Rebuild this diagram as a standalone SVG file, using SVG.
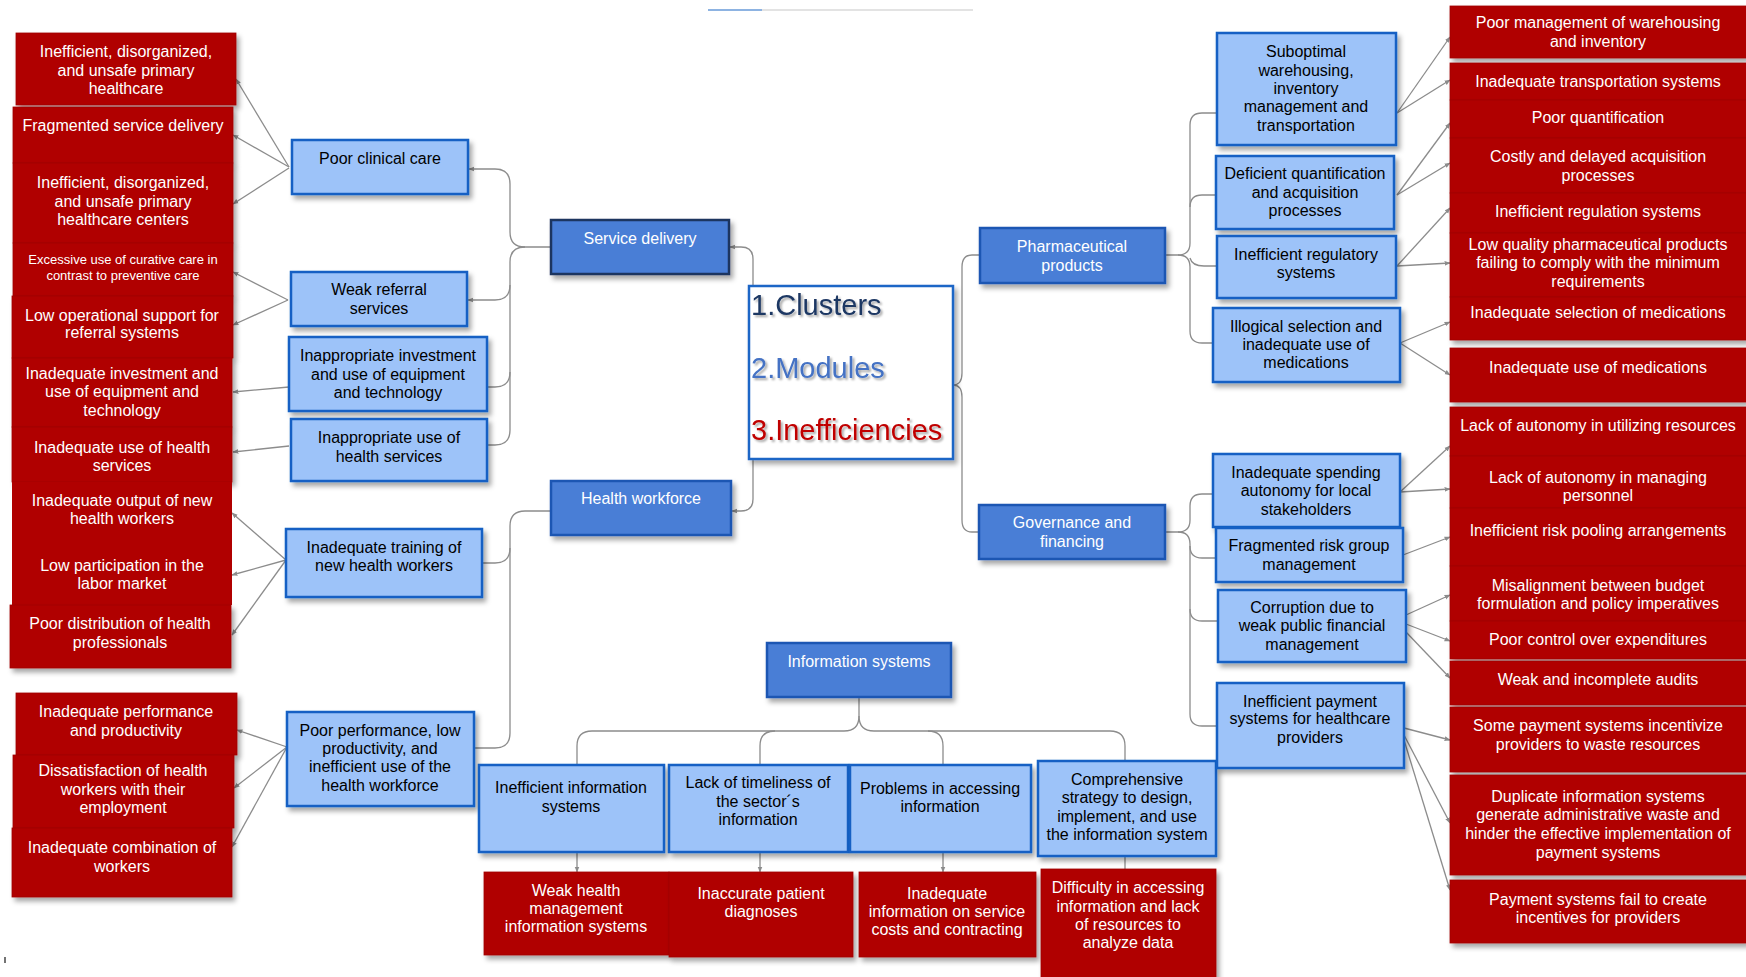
<svg xmlns="http://www.w3.org/2000/svg" width="1746" height="977" viewBox="0 0 1746 977">
<defs>
<style>
text{font-family:"Liberation Sans",Arial,sans-serif;font-size:16px;text-anchor:middle}
.red rect{fill:#b00000;stroke:#a00000;stroke-width:0.8}
.red text{fill:#fff}
.sub rect{fill:#9dc3f9;stroke:#1560c4;stroke-width:2.5}
.sub text{fill:#000}
.mod rect{fill:#4a7ed6;stroke:#1a56b3;stroke-width:2.5}
.mod text{fill:#fff}
.con path,.con line{fill:none;stroke:#8c8c8c;stroke-width:1.3}
.arr{marker-end:url(#ah)}
.big{font-size:29px;text-anchor:start}
</style>
<filter id="sh" x="-10%" y="-10%" width="130%" height="140%">
<feDropShadow dx="3" dy="4" stdDeviation="2.5" flood-color="#000" flood-opacity="0.35"/>
</filter>
<filter id="ts" x="-5%" y="-20%" width="115%" height="150%">
<feDropShadow dx="2" dy="2" stdDeviation="1.2" flood-color="#000" flood-opacity="0.35"/>
</filter>
<marker id="ah" viewBox="0 0 10 10" refX="9" refY="5" markerWidth="6" markerHeight="6" markerUnits="userSpaceOnUse" orient="auto">
<path d="M0,1 L10,5 L0,9 z" fill="#8c8c8c"/>
</marker>
</defs>
<rect width="1746" height="977" fill="#fff"/>

<!-- thin rule along the top edge -->
<line x1="708" y1="10" x2="973" y2="10" stroke="#e3e3e3" stroke-width="2"/>
<line x1="708" y1="10" x2="762" y2="10" stroke="#8db3e2" stroke-width="2"/>
<line x1="5" y1="957" x2="5" y2="963" stroke="#444" stroke-width="1.5"/>

<g id="connectors" class="con">
<!-- hub -->
<path class="arr" d="M753 286 V259 Q753 247 741 247 H730"/>
<path class="arr" d="M753 459 V499 Q753 511 741 511 H732"/>
<path d="M953 385 Q962 385 962 373 V267 Q962 255 972 255 H980"/>
<path d="M953 385 Q962 385 962 397 V520 Q962 532 972 532 H979"/>
<!-- service delivery -->
<path class="arr" d="M551 247 H525 Q510 247 510 232 V184 Q510 169 495 169 H469"/>
<path d="M525 247 Q510 247 510 262 V430 Q510 445 495 445 H487"/>
<path class="arr" d="M510 285 Q510 300 495 300 H468"/>
<path d="M510 372 Q510 387 495 387 H487"/>
<!-- health workforce -->
<path d="M551 511 H525 Q510 511 510 526 V733 Q510 748 495 748 H474"/>
<path d="M510 548 Q510 563 495 563 H482"/>
<!-- information systems -->
<path d="M859 697 V716 Q859 731 844 731 H592 Q577 731 577 746 V765"/>
<path d="M859 716 Q859 731 874 731 H1110 Q1125 731 1125 746 V761"/>
<path d="M775 731 Q760 731 760 746 V765"/>
<path d="M928 731 Q943 731 943 746 V765"/>
<line class="arr" x1="577" y1="852" x2="577" y2="872"/>
<line class="arr" x1="760" y1="852" x2="760" y2="872"/>
<line class="arr" x1="943" y1="852" x2="943" y2="872"/>
<line x1="1125" y1="856" x2="1125" y2="869"/>
<!-- pharmaceutical products -->
<path d="M1165 255 H1178 Q1190 255 1190 243 V125 Q1190 113 1202 113 H1217"/>
<path d="M1178 255 Q1190 255 1190 267 V331 Q1190 343 1202 343 H1213"/>
<path d="M1190 207 Q1190 195 1202 195 H1216"/>
<path d="M1190 258 Q1192 266 1204 266 H1217"/>
<!-- governance and financing -->
<path d="M1165 532 H1178 Q1190 532 1190 520 V506 Q1190 494 1202 494 H1213"/>
<path d="M1178 532 Q1190 532 1190 544 V714 Q1190 726 1202 726 H1217"/>
<path d="M1190 546 Q1190 558 1202 558 H1216"/>
<path d="M1190 609 Q1190 621 1202 621 H1218"/>
<!-- left inefficiencies -->
<line class="arr" x1="289" y1="167" x2="236" y2="79"/>
<line class="arr" x1="289" y1="167" x2="233" y2="135"/>
<line class="arr" x1="289" y1="168" x2="233" y2="204"/>
<line class="arr" x1="288" y1="300" x2="233" y2="272"/>
<line class="arr" x1="288" y1="300" x2="233" y2="325"/>
<line class="arr" x1="289" y1="387" x2="233" y2="392"/>
<line class="arr" x1="289" y1="446" x2="233" y2="452"/>
<line class="arr" x1="286" y1="560" x2="232" y2="513"/>
<line class="arr" x1="286" y1="560" x2="232" y2="575"/>
<line class="arr" x1="286" y1="560" x2="232" y2="635"/>
<line class="arr" x1="287" y1="747" x2="237" y2="730"/>
<line class="arr" x1="287" y1="747" x2="234" y2="788"/>
<line class="arr" x1="287" y1="747" x2="232" y2="847"/>
<!-- right inefficiencies -->
<line class="arr" x1="1397" y1="113" x2="1450" y2="37"/>
<line class="arr" x1="1397" y1="113" x2="1450" y2="80"/>
<line class="arr" x1="1397" y1="195" x2="1450" y2="123"/>
<line class="arr" x1="1397" y1="195" x2="1450" y2="163"/>
<line class="arr" x1="1397" y1="266" x2="1450" y2="208"/>
<line class="arr" x1="1397" y1="266" x2="1450" y2="263"/>
<line class="arr" x1="1400" y1="343" x2="1450" y2="322"/>
<line class="arr" x1="1400" y1="343" x2="1450" y2="375"/>
<line class="arr" x1="1400" y1="492" x2="1450" y2="446"/>
<line class="arr" x1="1400" y1="492" x2="1450" y2="489"/>
<line class="arr" x1="1403" y1="555" x2="1450" y2="537"/>
<line class="arr" x1="1406" y1="615" x2="1450" y2="595"/>
<line class="arr" x1="1406" y1="624" x2="1450" y2="641"/>
<line class="arr" x1="1406" y1="632" x2="1450" y2="678"/>
<line class="arr" x1="1404" y1="728" x2="1450" y2="740"/>
<line class="arr" x1="1404" y1="735" x2="1450" y2="823"/>
<line class="arr" x1="1404" y1="740" x2="1450" y2="890"/>
</g>

<!-- centre legend -->
<g id="legend">
<rect x="749" y="286" width="204" height="173" fill="#fff" stroke="#1f66c6" stroke-width="2.5" filter="url(#sh)"/>
<g filter="url(#ts)">
<text class="big" x="751" y="315" fill="#1f3864">1.Clusters</text>
<text class="big" x="751" y="378" fill="#4472c4">2.Modules</text>
<text class="big" x="751" y="440" fill="#c00000">3.Inefficiencies</text>
</g>
</g>

<!-- modules -->
<g id="m-service" class="mod"><rect x="551" y="220" width="178" height="54" filter="url(#sh)" style="stroke:#1c3460"/><text x="640" y="244">Service delivery</text></g>
<g id="m-workforce" class="mod"><rect x="551" y="481" width="180" height="54" filter="url(#sh)"/><text x="641" y="504">Health workforce</text></g>
<g id="m-info" class="mod"><rect x="767" y="643" width="184" height="54" filter="url(#sh)"/><text x="859" y="667">Information systems</text></g>
<g id="m-pharma" class="mod"><rect x="980" y="228" width="185" height="55" filter="url(#sh)"/><text x="1072" y="252">Pharmaceutical</text><text x="1072" y="271">products</text></g>
<g id="m-gov" class="mod"><rect x="979" y="505" width="186" height="54" filter="url(#sh)"/><text x="1072" y="528">Governance and</text><text x="1072" y="547">financing</text></g>

<!-- service delivery / workforce clusters -->
<g id="c-clinical" class="sub"><rect x="292" y="140" width="176" height="54" filter="url(#sh)"/><text x="380" y="164">Poor clinical care</text></g>
<g id="c-referral" class="sub"><rect x="291" y="272" width="176" height="54" filter="url(#sh)"/><text x="379" y="295">Weak referral</text><text x="379" y="314">services</text></g>
<g id="c-equipment" class="sub"><rect x="289" y="337" width="198" height="74" filter="url(#sh)"/><text x="388" y="361">Inappropriate investment</text><text x="388" y="380">and use of equipment</text><text x="388" y="398">and technology</text></g>
<g id="c-use" class="sub"><rect x="291" y="419" width="196" height="62" filter="url(#sh)"/><text x="389" y="443">Inappropriate use of</text><text x="389" y="462">health services</text></g>
<g id="c-training" class="sub"><rect x="286" y="529" width="196" height="68" filter="url(#sh)"/><text x="384" y="553">Inadequate training of</text><text x="384" y="571">new health workers</text></g>
<g id="c-performance" class="sub"><rect x="287" y="712" width="187" height="94" filter="url(#sh)"/><text x="380" y="736">Poor performance, low</text><text x="380" y="754">productivity, and</text><text x="380" y="772">inefficient use of the</text><text x="380" y="791">health workforce</text></g>

<!-- left inefficiencies -->
<g id="i-l1" class="red"><rect x="16" y="33" width="220" height="72" filter="url(#sh)"/><text x="126" y="57">Inefficient, disorganized,</text><text x="126" y="76">and unsafe primary</text><text x="126" y="94">healthcare</text></g>
<g id="i-l2" class="red"><rect x="13" y="107" width="220" height="56" filter="url(#sh)"/><text x="123" y="131">Fragmented service delivery</text></g>
<g id="i-l3" class="red"><rect x="13" y="163" width="220" height="80" filter="url(#sh)"/><text x="123" y="188">Inefficient, disorganized,</text><text x="123" y="207">and unsafe primary</text><text x="123" y="225">healthcare centers</text></g>
<g id="i-l4" class="red"><rect x="13" y="243" width="220" height="53" filter="url(#sh)"/><text x="123" y="264" style="font-size:13px">Excessive use of curative care in</text><text x="123" y="280" style="font-size:13px">contrast to preventive care</text></g>
<g id="i-l5" class="red"><rect x="12" y="296" width="221" height="62" filter="url(#sh)"/><text x="122" y="321">Low operational support for</text><text x="122" y="338">referral systems</text></g>
<g id="i-l6" class="red"><rect x="12" y="358" width="220" height="69" filter="url(#sh)"/><text x="122" y="379">Inadequate investment and</text><text x="122" y="397">use of equipment and</text><text x="122" y="416">technology</text></g>
<g id="i-l7" class="red"><rect x="12" y="427" width="220" height="55" filter="url(#sh)"/><text x="122" y="453">Inadequate use of health</text><text x="122" y="471">services</text></g>
<g id="i-l8" class="red"><rect x="12" y="482" width="220" height="58" style="stroke:none"/><text x="122" y="506">Inadequate output of new</text><text x="122" y="524">health workers</text></g>
<g id="i-l9" class="red"><rect x="12" y="540" width="220" height="65" style="stroke:none"/><text x="122" y="571">Low participation in the</text><text x="122" y="589">labor market</text></g>
<g id="i-l10" class="red"><rect x="10" y="605" width="221" height="63" filter="url(#sh)"/><text x="120" y="629">Poor distribution of health</text><text x="120" y="648">professionals</text></g>
<g id="i-l11" class="red"><rect x="16" y="693" width="221" height="62" filter="url(#sh)"/><text x="126" y="717">Inadequate performance</text><text x="126" y="736">and productivity</text></g>
<g id="i-l12" class="red"><rect x="13" y="755" width="221" height="73" filter="url(#sh)"/><text x="123" y="776">Dissatisfaction of health</text><text x="123" y="795">workers with their</text><text x="123" y="813">employment</text></g>
<g id="i-l13" class="red"><rect x="12" y="828" width="220" height="69" filter="url(#sh)"/><text x="122" y="853">Inadequate combination of</text><text x="122" y="872">workers</text></g>

<!-- information systems clusters -->
<g id="c-infosys" class="sub"><rect x="479" y="765" width="185" height="87" filter="url(#sh)"/><text x="571" y="793">Inefficient information</text><text x="571" y="812">systems</text></g>
<g id="c-timeliness" class="sub"><rect x="669" y="765" width="179" height="87" filter="url(#sh)"/><text x="758" y="788">Lack of timeliness of</text><text x="758" y="807">the sector´s</text><text x="758" y="825">information</text></g>
<g id="c-access" class="sub"><rect x="850" y="765" width="181" height="87" filter="url(#sh)"/><text x="940" y="794">Problems in accessing</text><text x="940" y="812">information</text></g>
<g id="c-strategy" class="sub"><rect x="1038" y="761" width="178" height="95" filter="url(#sh)"/><text x="1127" y="785">Comprehensive</text><text x="1127" y="803">strategy to design,</text><text x="1127" y="822">implement, and use</text><text x="1127" y="840">the information system</text></g>

<!-- information systems inefficiencies -->
<g id="i-b1" class="red"><rect x="484" y="872" width="185" height="83" filter="url(#sh)"/><text x="576" y="896">Weak health</text><text x="576" y="914">management</text><text x="576" y="932">information systems</text></g>
<g id="i-b2" class="red"><rect x="669" y="872" width="184" height="85" filter="url(#sh)"/><text x="761" y="899">Inaccurate patient</text><text x="761" y="917">diagnoses</text></g>
<g id="i-b3" class="red"><rect x="859" y="872" width="177" height="85" filter="url(#sh)"/><text x="947" y="899">Inadequate</text><text x="947" y="917">information on service</text><text x="947" y="935">costs and contracting</text></g>
<g id="i-b4" class="red"><rect x="1041" y="869" width="175" height="110" filter="url(#sh)"/><text x="1128" y="893">Difficulty in accessing</text><text x="1128" y="912">information and lack</text><text x="1128" y="930">of resources to</text><text x="1128" y="948">analyze data</text></g>

<!-- pharmaceutical clusters -->
<g id="c-warehousing" class="sub"><rect x="1217" y="33" width="179" height="112" filter="url(#sh)"/><text x="1306" y="57">Suboptimal</text><text x="1306" y="76">warehousing,</text><text x="1306" y="94">inventory</text><text x="1306" y="112">management and</text><text x="1306" y="131">transportation</text></g>
<g id="c-quantification" class="sub"><rect x="1216" y="156" width="178" height="73" filter="url(#sh)"/><text x="1305" y="179">Deficient quantification</text><text x="1305" y="198">and acquisition</text><text x="1305" y="216">processes</text></g>
<g id="c-regulatory" class="sub"><rect x="1217" y="236" width="179" height="62" filter="url(#sh)"/><text x="1306" y="260">Inefficient regulatory</text><text x="1306" y="278">systems</text></g>
<g id="c-selection" class="sub"><rect x="1213" y="308" width="187" height="74" filter="url(#sh)"/><text x="1306" y="332">Illogical selection and</text><text x="1306" y="350">inadequate use of</text><text x="1306" y="368">medications</text></g>

<!-- governance clusters -->
<g id="c-spending" class="sub"><rect x="1213" y="454" width="187" height="73" filter="url(#sh)"/><text x="1306" y="478">Inadequate spending</text><text x="1306" y="496">autonomy for local</text><text x="1306" y="515">stakeholders</text></g>
<g id="c-risk" class="sub"><rect x="1216" y="528" width="187" height="54" filter="url(#sh)"/><text x="1309" y="551">Fragmented risk group</text><text x="1309" y="570">management</text></g>
<g id="c-corruption" class="sub"><rect x="1218" y="590" width="188" height="72" filter="url(#sh)"/><text x="1312" y="613">Corruption due to</text><text x="1312" y="631">weak public financial</text><text x="1312" y="650">management</text></g>
<g id="c-payment" class="sub"><rect x="1217" y="683" width="187" height="85" filter="url(#sh)"/><text x="1310" y="707">Inefficient payment</text><text x="1310" y="724">systems for healthcare</text><text x="1310" y="743">providers</text></g>

<!-- right inefficiencies -->
<g id="i-r1" class="red"><rect x="1450" y="6" width="297" height="52" filter="url(#sh)"/><text x="1598" y="28">Poor management of warehousing</text><text x="1598" y="47">and inventory</text></g>
<g id="i-r2" class="red"><rect x="1450" y="63" width="297" height="37" filter="url(#sh)"/><text x="1598" y="87">Inadequate transportation systems</text></g>
<g id="i-r3" class="red"><rect x="1450" y="100" width="297" height="38" filter="url(#sh)"/><text x="1598" y="123">Poor quantification</text></g>
<g id="i-r4" class="red"><rect x="1450" y="138" width="297" height="55" filter="url(#sh)"/><text x="1598" y="162">Costly and delayed acquisition</text><text x="1598" y="181">processes</text></g>
<g id="i-r5" class="red"><rect x="1450" y="193" width="297" height="40" filter="url(#sh)"/><text x="1598" y="217">Inefficient regulation systems</text></g>
<g id="i-r6" class="red"><rect x="1450" y="233" width="297" height="64" filter="url(#sh)"/><text x="1598" y="250">Low quality pharmaceutical products</text><text x="1598" y="268">failing to comply with the minimum</text><text x="1598" y="287">requirements</text></g>
<g id="i-r7" class="red"><rect x="1450" y="297" width="297" height="43" filter="url(#sh)"/><text x="1598" y="318">Inadequate selection of medications</text></g>
<g id="i-r8" class="red"><rect x="1450" y="348" width="297" height="54" filter="url(#sh)"/><text x="1598" y="373">Inadequate use of medications</text></g>
<g id="i-r9" class="red"><rect x="1450" y="407" width="297" height="49" filter="url(#sh)"/><text x="1598" y="431">Lack of autonomy in utilizing resources</text></g>
<g id="i-r10" class="red"><rect x="1450" y="456" width="297" height="52" filter="url(#sh)"/><text x="1598" y="483">Lack of autonomy in managing</text><text x="1598" y="501">personnel</text></g>
<g id="i-r11" class="red"><rect x="1450" y="508" width="297" height="58" filter="url(#sh)"/><text x="1598" y="536">Inefficient risk pooling arrangements</text></g>
<g id="i-r12" class="red"><rect x="1450" y="566" width="297" height="55" filter="url(#sh)"/><text x="1598" y="591">Misalignment between budget</text><text x="1598" y="609">formulation and policy imperatives</text></g>
<g id="i-r13" class="red"><rect x="1450" y="621" width="297" height="38" filter="url(#sh)"/><text x="1598" y="645">Poor control over expenditures</text></g>
<g id="i-r14" class="red"><rect x="1450" y="661" width="297" height="44" filter="url(#sh)"/><text x="1598" y="685">Weak and incomplete audits</text></g>
<g id="i-r15" class="red"><rect x="1450" y="707" width="297" height="65" filter="url(#sh)"/><text x="1598" y="731">Some payment systems incentivize</text><text x="1598" y="750">providers to waste resources</text></g>
<g id="i-r16" class="red"><rect x="1450" y="775" width="297" height="100" filter="url(#sh)"/><text x="1598" y="802">Duplicate information systems</text><text x="1598" y="820">generate administrative waste and</text><text x="1598" y="839">hinder the effective implementation of</text><text x="1598" y="858">payment systems</text></g>
<g id="i-r17" class="red"><rect x="1450" y="880" width="297" height="63" filter="url(#sh)"/><text x="1598" y="905">Payment systems fail to create</text><text x="1598" y="923">incentives for providers</text></g>
</svg>
